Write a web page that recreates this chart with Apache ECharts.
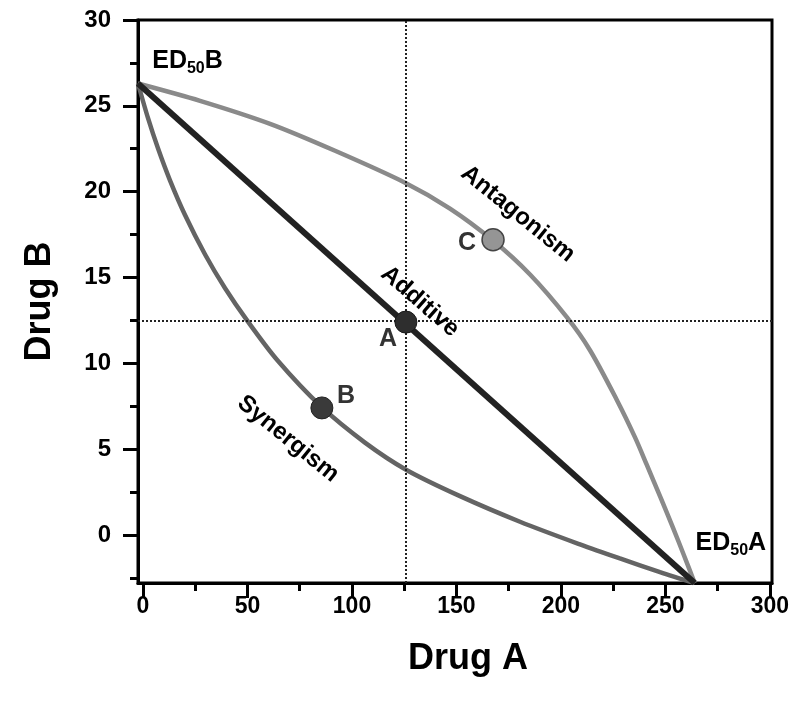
<!DOCTYPE html>
<html><head><meta charset="utf-8">
<script src="https://cdn.jsdelivr.net/npm/echarts@6/dist/echarts.min.js"></script>
<style>html,body{margin:0;padding:0;background:#fff}#c{width:799px;height:704px}</style>
</head><body><div id="c"></div>
<script>
// ---- data ----
const xTicks = [0, 50, 100, 150, 200, 250, 300];
const xMinorTicks = [25, 75, 125, 175, 225, 275];
const yTicks = [0, 5, 10, 15, 20, 25, 30];
const yMinorTicks = [-2.5, 2.5, 7.5, 12.5, 17.5, 22.5, 27.5];
const ed50B = [-2.4, 26.3];
const ed50A = [264, -2.8];
const additive = [ed50B, ed50A];
const antagonism = [[-2.4, 26.3], [27.3, 25.29], [60.8, 23.95], [91.9, 22.38], [125.4, 20.52], [146.9, 19.01],
  [167.5, 17.15], [185.2, 15.17], [202.9, 12.67], [213.9, 10.76], [226.8, 7.85], [235.4, 5.7], [241.1, 4.08],
  [247.8, 2.14], [253.6, 0.43], [258.9, -1.2], [264, -2.8]];
const synergism = [[-2.4, 26.3], [2.4, 24.28], [7.2, 22.51], [12.9, 20.66], [20.1, 18.64], [29.7, 16.34], [39.2, 14.39],
  [49.8, 12.5], [64.1, 10.21], [85.6, 7.44], [106.2, 5.38], [126.3, 3.77], [151.7, 2.26], [180.4, 0.77],
  [209.1, -0.55], [228.2, -1.37], [247.4, -2.16], [264, -2.8]];
const pointA = [125.8, 12.4];
const pointB = [85.6, 7.4];
const pointC = [167.5, 17.2];
const crossX = 125.8;
const crossY = 12.5;
const annotations = [
  {name: 'Antagonism', value: [179.4, 18.7], rotate: -39},
  {name: 'Additive', value: [132.5, 13.6], rotate: -41},
  {name: 'Synergism', value: [69.4, 5.6], rotate: -39}
];
const pointLabels = [
  {name: 'A', value: [117.2, 11.4]},
  {name: 'B', value: [97.1, 8.1]},
  {name: 'C', value: [155, 17.0]}
];
const edLabels = [
  {name: '{a|ED}{s|50}{a|B}', value: [21.3, 27.6]},
  {name: '{a|ED}{s|50}{a|A}', value: [281.3, -0.5]}
];

const FONT = '"Liberation Sans", Arial, sans-serif';
const chart = echarts.init(document.getElementById('c'));
const xmin = -2.4, xmax = 301, ymin = -2.8, ymax = 30;
const tickStyle = {color: '#000', width: 3};

chart.setOption({
  animation: false,
  grid: {left: 138, right: 27, top: 20, bottom: 121, show: true, borderColor: '#000', borderWidth: 3, backgroundColor: 'transparent'},
  xAxis: [{
    type: 'value', min: xmin, max: xmax, position: 'bottom',
    name: 'Drug A', nameLocation: 'middle', nameGap: 58,
    nameTextStyle: {fontFamily: FONT, fontWeight: 'bold', fontSize: 36, color: '#000', padding: [0, 0, 0, 26]},
    axisLine: {show: true, onZero: false, lineStyle: tickStyle},
    axisTick: {show: true, length: 15, lineStyle: tickStyle, customValues: xTicks},
    axisLabel: {show: true, margin: 12, fontFamily: FONT, fontWeight: 'bold', fontSize: 23, color: '#000', customValues: xTicks},
    splitLine: {show: false}
  }, {
    type: 'value', min: xmin, max: xmax, position: 'bottom',
    axisLine: {show: false, onZero: false},
    axisTick: {show: true, length: 8, lineStyle: tickStyle, customValues: xMinorTicks},
    axisLabel: {show: false},
    splitLine: {show: false}
  }],
  yAxis: [{
    type: 'value', min: ymin, max: ymax, position: 'left',
    name: 'Drug B', nameLocation: 'middle', nameGap: 80, nameRotate: 90,
    nameTextStyle: {fontFamily: FONT, fontWeight: 'bold', fontSize: 36, color: '#000'},
    axisLine: {show: true, onZero: false, lineStyle: tickStyle},
    axisTick: {show: true, length: 15, lineStyle: tickStyle, customValues: yTicks},
    axisLabel: {show: true, margin: 27, fontFamily: FONT, fontWeight: 'bold', fontSize: 24, color: '#000', customValues: yTicks},
    splitLine: {show: false}
  }, {
    type: 'value', min: ymin, max: ymax, position: 'left',
    axisLine: {show: false, onZero: false},
    axisTick: {show: true, length: 8, lineStyle: tickStyle, customValues: yMinorTicks},
    axisLabel: {show: false},
    splitLine: {show: false}
  }],
  series: [
    {
      type: 'line', data: [], silent: true, z: 1,
      markLine: {
        silent: true, symbol: 'none', label: {show: false},
        lineStyle: {type: 'dotted', color: '#222', width: 2},
        data: [{xAxis: crossX}, {yAxis: crossY}]
      }
    },
    {type: 'line', data: antagonism, smooth: 0.3, symbol: 'none', z: 2, lineStyle: {color: '#8a8a8a', width: 4.5}},
    {type: 'line', data: synergism, smooth: 0.3, symbol: 'none', z: 2, lineStyle: {color: '#646464', width: 4.5}},
    {type: 'line', data: additive, symbol: 'none', z: 3, lineStyle: {color: '#222', width: 6}},
    {type: 'scatter', z: 5, symbolSize: 22,
      data: [
        {value: pointA, itemStyle: {color: '#2e2e2e', borderColor: '#1a1a1a', borderWidth: 1, opacity: 1}},
        {value: pointB, itemStyle: {color: '#3a3a3a', borderColor: '#222', borderWidth: 1, opacity: 1}},
        {value: pointC, itemStyle: {color: '#959595', borderColor: '#444', borderWidth: 1.5, opacity: 1}}
      ]},
    {type: 'scatter', z: 6, symbolSize: 1, silent: true, itemStyle: {color: 'transparent', opacity: 1},
      data: annotations.map(a => ({name: a.name, value: a.value, label: {rotate: a.rotate}})),
      label: {show: true, position: 'inside', formatter: '{b}', fontFamily: FONT, fontWeight: 'bold', fontSize: 24, color: '#000', textBorderWidth: 0}},
    {type: 'scatter', z: 6, symbolSize: 1, silent: true, itemStyle: {color: 'transparent', opacity: 1},
      data: pointLabels,
      label: {show: true, position: 'inside', formatter: '{b}', fontFamily: FONT, fontWeight: 'bold', fontSize: 25, color: '#333', textBorderWidth: 0}},
    {type: 'scatter', z: 6, symbolSize: 1, silent: true, itemStyle: {color: 'transparent', opacity: 1},
      data: edLabels,
      label: {show: true, position: 'inside', formatter: '{b}', textBorderWidth: 0,
        rich: {
          a: {fontFamily: FONT, fontWeight: 'bold', fontSize: 25, color: '#000', lineHeight: 30},
          s: {fontFamily: FONT, fontWeight: 'bold', fontSize: 16, color: '#000', lineHeight: 30, padding: [14, 0, 0, 0]}
        }}}
  ]
});
</script>
</body></html>
